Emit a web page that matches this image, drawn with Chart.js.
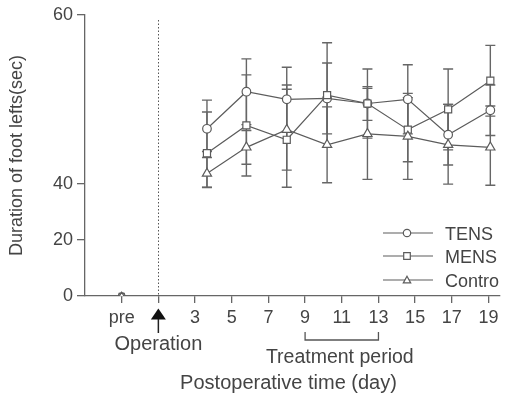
<!DOCTYPE html>
<html>
<head>
<meta charset="utf-8">
<script src="https://cdn.jsdelivr.net/npm/chart.js@4.4.0/dist/chart.umd.min.js"></script>
<style>
  html, body { margin: 0; padding: 0; background: #fff; }
</style>
</head>
<body>
<canvas id="chart" width="506" height="394"></canvas>
<script>
const X_TICKS = [-1, 1, 3, 5, 7, 9, 11, 13, 15, 17, 19];
const Y_TICKS = [0, 20, 40, 60];
const PRE_DAY = -1;
const OPERATION_DAY = 1;
const TREATMENT_DAYS = [9, 13];

const seriesNames = ['TENS', 'MENS', 'Contro'];
const preValues = [0, 0, 0];
const days = [3.65, 5.8, 8.0, 10.2, 12.4, 14.6, 16.8, 19.1];

const tensMean = [46.5, 50.9, 50.0, 50.1, 49.5, 50.0, 45.8, 48.7];
const tensErr = [3.4, 3.9, 3.8, 4.2, 2.0, 4.1, 3.6, 3.0];
const mensMean = [43.6, 46.9, 45.2, 50.5, 49.5, 46.4, 48.8, 52.2];
const mensErr = [4.9, 6.0, 6.5, 6.2, 4.1, 3.8, 4.8, 4.2];
const controlMean = [41.2, 44.3, 46.4, 44.6, 45.9, 45.6, 44.6, 44.3];
const controlErr = [2.6, 2.0, 4.8, 4.5, 5.4, 5.1, 4.8, 4.9];

// y axis is broken: 0-40 squeezed into the lower 40% of the height
const Y_BREAK = 40;
const BREAK_FRACTION = 0.4;

const INK = '#444';
const LINE = '#5c5c5c';
const FONT = '"Liberation Sans", Arial, sans-serif';

class BrokenScale extends Chart.LinearScale {
  static id = 'broken';
  static defaults = Chart.LinearScale.defaults;

  getPixelForValue(value) {
    if (value === null || value === undefined) return NaN;
    const dec = value <= Y_BREAK
      ? value / Y_BREAK * BREAK_FRACTION
      : BREAK_FRACTION + (value - Y_BREAK) / (this.max - Y_BREAK) * (1 - BREAK_FRACTION);
    return this.getPixelForDecimal(dec);
  }

  getValueForPixel(pixel) {
    const dec = this.getDecimalForPixel(pixel);
    return dec <= BREAK_FRACTION
      ? dec / BREAK_FRACTION * Y_BREAK
      : Y_BREAK + (dec - BREAK_FRACTION) / (1 - BREAK_FRACTION) * (this.max - Y_BREAK);
  }
}
Chart.register(BrokenScale);

const buildPoints = (pre, means) => [
  {x: PRE_DAY, y: pre},
  {x: OPERATION_DAY, y: null},
  ...days.map((d, i) => ({x: d, y: means[i]}))
];

const pointSize = (big, small) => ctx => (ctx.raw && ctx.raw.x < OPERATION_DAY ? small : big);

const makeDataset = (i, means, errs, style, big, small) => ({
  label: seriesNames[i],
  data: buildPoints(preValues[i], means),
  errors: [null, null, ...errs],
  order: 2 - i,
  pointStyle: style,
  pointRadius: pointSize(big, small),
  pointHoverRadius: pointSize(big, small),
  pointBackgroundColor: '#fff',
  pointBorderColor: LINE,
  pointBorderWidth: 1.2,
  borderColor: LINE,
  borderWidth: 1.2,
  tension: 0,
  spanGaps: false
});

const drawMarker = (ctx, style, x, y, r) => {
  ctx.beginPath();
  if (style === 'circle') {
    ctx.arc(x, y, r, 0, Math.PI * 2);
  } else if (style === 'rect') {
    ctx.rect(x - r, y - r, 2 * r, 2 * r);
  } else {
    ctx.moveTo(x, y - r);
    ctx.lineTo(x + r, y + r * 0.8);
    ctx.lineTo(x - r, y + r * 0.8);
    ctx.closePath();
  }
  ctx.fillStyle = '#fff';
  ctx.fill();
  ctx.stroke();
};

const errorBars = {
  id: 'errorBars',
  beforeDatasetsDraw(chart) {
    const {ctx, scales: {x, y}, chartArea} = chart;
    ctx.save();
    // dotted line at the operation day
    ctx.strokeStyle = '#555';
    ctx.lineWidth = 1;
    ctx.setLineDash([1.5, 2]);
    const opX = Math.round(x.getPixelForValue(OPERATION_DAY)) + 0.5;
    ctx.beginPath();
    ctx.moveTo(opX, chartArea.top + 5);
    ctx.lineTo(opX, chartArea.bottom);
    ctx.stroke();
    ctx.setLineDash([]);

    ctx.strokeStyle = '#666';
    ctx.lineWidth = 1.4;
    chart.data.datasets.forEach(ds => {
      ds.data.forEach((p, i) => {
        const e = ds.errors[i];
        if (e === null || p.y === null) return;
        const px = x.getPixelForValue(p.x);
        const top = y.getPixelForValue(p.y + e);
        const bottom = y.getPixelForValue(p.y - e);
        ctx.beginPath();
        ctx.moveTo(px, top);
        ctx.lineTo(px, bottom);
        ctx.moveTo(px - 5, top);
        ctx.lineTo(px + 5, top);
        ctx.moveTo(px - 5, bottom);
        ctx.lineTo(px + 5, bottom);
        ctx.stroke();
      });
    });
    ctx.restore();
  }
};

const annotations = {
  id: 'annotations',
  afterDraw(chart) {
    const {ctx, scales: {x}} = chart;
    ctx.save();
    const opX = x.getPixelForValue(OPERATION_DAY);

    // operation arrow
    ctx.fillStyle = '#111';
    ctx.strokeStyle = '#222';
    ctx.beginPath();
    ctx.moveTo(opX, 308.5);
    ctx.lineTo(opX + 7.5, 319.5);
    ctx.lineTo(opX - 7.5, 319.5);
    ctx.closePath();
    ctx.fill();
    ctx.lineWidth = 1.5;
    ctx.beginPath();
    ctx.moveTo(opX, 319);
    ctx.lineTo(opX, 333);
    ctx.stroke();

    ctx.font = '20px ' + FONT;
    ctx.fillStyle = INK;
    ctx.textAlign = 'center';
    ctx.textBaseline = 'alphabetic';
    ctx.fillText('Operation', opX, 350);

    // treatment bracket
    const x0 = x.getPixelForValue(TREATMENT_DAYS[0]);
    const x1 = x.getPixelForValue(TREATMENT_DAYS[1]);
    ctx.strokeStyle = '#555';
    ctx.lineWidth = 1.3;
    ctx.beginPath();
    ctx.moveTo(x0, 332);
    ctx.lineTo(x0, 340);
    ctx.lineTo(x1, 340);
    ctx.lineTo(x1, 332);
    ctx.stroke();
    ctx.font = '19.5px ' + FONT;
    ctx.fillText('Treatment period', (x0 + x1) / 2 - 2, 362.5);

    ctx.font = '20px ' + FONT;
    ctx.fillText('Postoperative time (day)', 288.5, 388.5);

    // legend
    ctx.font = '18px ' + FONT;
    const rows = [233, 256, 280];
    chart.data.datasets.forEach((ds, i) => {
      const ly = rows[i];
      ctx.strokeStyle = LINE;
      ctx.lineWidth = 1.2;
      ctx.beginPath();
      ctx.moveTo(383, ly);
      ctx.lineTo(433, ly);
      ctx.stroke();
      drawMarker(ctx, ds.pointStyle, 407, ly, ds.pointStyle === 'rect' ? 3.3 : 3.7);
      ctx.fillStyle = INK;
      ctx.textAlign = 'left';
      ctx.fillText(ds.label, 445, ly + 6.5);
    });
    ctx.restore();
  }
};

const tickLabel = v => {
  if (v === PRE_DAY) return 'pre';
  if (v === OPERATION_DAY) return '';
  return String(v);
};

const buildChart = () => {
  const data = {
    datasets: [
      makeDataset(0, tensMean, tensErr, 'circle', 4.3, 3.2),
      makeDataset(1, mensMean, mensErr, 'rect', 5, 3.6),
      makeDataset(2, controlMean, controlErr, 'triangle', 5.3, 3.8)
    ]
  };

  const config = {
    type: 'line',
    data: data,
    options: {
      responsive: false,
      animation: false,
      layout: {padding: {top: 15, left: 0, right: 0, bottom: 0}},
      plugins: {legend: {display: false}, tooltip: {enabled: false}},
      scales: {
        x: {
          type: 'linear',
          min: -3,
          max: 19.6,
          afterBuildTicks: s => { s.ticks = X_TICKS.map(v => ({value: v})); },
          afterFit: s => { s.height = 98; s.paddingLeft = 0; s.paddingRight = 0; },
          ticks: {callback: tickLabel, autoSkip: false, maxRotation: 0, padding: 4, color: INK, font: {size: 18, family: FONT}},
          grid: {drawOnChartArea: false, tickLength: 7, color: '#666', lineWidth: 1.3},
          border: {color: '#666', width: 1.3}
        },
        y: {
          type: 'broken',
          min: 0,
          max: 60,
          afterBuildTicks: s => { s.ticks = Y_TICKS.map(v => ({value: v})); },
          afterFit: s => { s.width = 85; },
          ticks: {padding: 4, color: INK, font: {size: 18, family: FONT}},
          grid: {drawOnChartArea: false, tickLength: 8, color: '#666', lineWidth: 1.3},
          border: {color: '#666', width: 1.3},
          title: {display: true, text: 'Duration of foot lefts(sec)', color: INK, font: {size: 18, family: FONT}, padding: {top: 6, bottom: 0}}
        }
      }
    },
    plugins: [errorBars, annotations]
  };

  return new Chart(document.getElementById('chart'), config);
};

buildChart();
</script>
</body>
</html>
